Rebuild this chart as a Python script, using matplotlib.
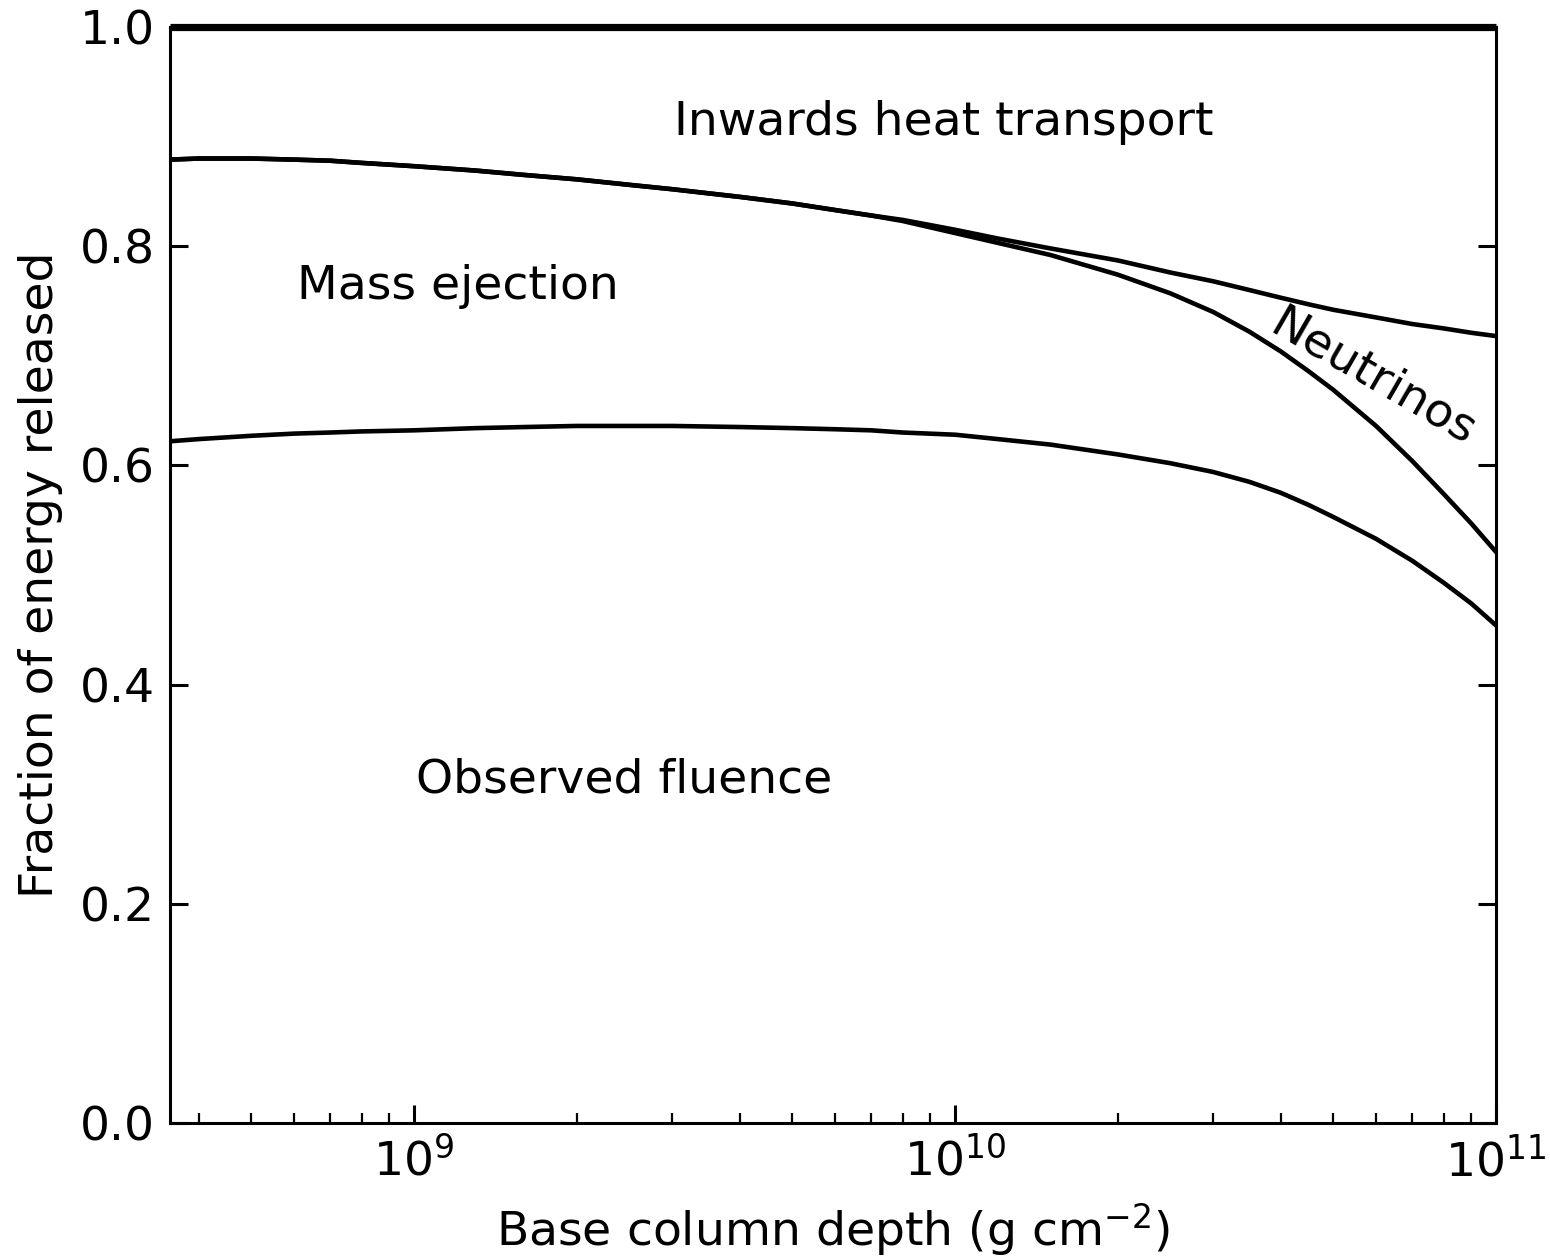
import numpy as np
import matplotlib
matplotlib.use('Agg')
import matplotlib.pyplot as plt

# base column depth (g cm^-2)
depth = [3.54e8, 4e8, 5e8, 6e8, 7e8, 8e8, 1e9, 1.3e9, 1.6e9, 2e9, 2.5e9, 3e9,
         4e9, 5e9, 6e9, 7e9, 8e9, 1e10, 1.2e10, 1.5e10, 2e10, 2.5e10, 3e10,
         3.5e10, 4e10, 4.5e10, 5e10, 6e10, 7e10, 8e10, 9e10, 1e11]

# upper edge of mass ejection (below heat transport)
heat_edge = [0.879, 0.880, 0.880, 0.879, 0.878, 0.876, 0.873, 0.869, 0.865, 0.861, 0.856, 0.852,
             0.845, 0.839, 0.833, 0.828, 0.824, 0.815, 0.807, 0.798, 0.787, 0.776, 0.768,
             0.760, 0.753, 0.747, 0.742, 0.735, 0.729, 0.725, 0.721, 0.718]
# lower edge of neutrinos band
nu_edge = [0.879, 0.880, 0.880, 0.879, 0.878, 0.876, 0.873, 0.869, 0.865, 0.861, 0.856, 0.852,
           0.845, 0.839, 0.833, 0.828, 0.823, 0.812, 0.803, 0.792, 0.774, 0.757, 0.740,
           0.722, 0.704, 0.686, 0.669, 0.636, 0.604, 0.574, 0.547, 0.521]
# observed fluence
fluence = [0.622, 0.624, 0.627, 0.629, 0.630, 0.631, 0.632, 0.634, 0.635, 0.636, 0.636, 0.636,
           0.635, 0.634, 0.633, 0.632, 0.630, 0.628, 0.624, 0.619, 0.610, 0.602, 0.594,
           0.585, 0.575, 0.564, 0.553, 0.533, 0.513, 0.493, 0.474, 0.454]
top = [1.0] * len(depth)

fs = 34
plt.rcParams['font.size'] = fs

fig = plt.figure(figsize=(15.5, 12.56), dpi=100)
ax = fig.add_axes([0.1097, 0.1059, 0.8555, 0.8726])

lw = 3.3
ax.plot(depth, top, 'k-', lw=5.2, clip_on=False, solid_capstyle='butt', zorder=3)
ax.plot(depth, heat_edge, 'k-', lw=lw)
ax.plot(depth, nu_edge, 'k-', lw=lw)
ax.plot(depth, fluence, 'k-', lw=lw)

ax.set_xscale('log')
ax.set_xlim(3.54e8, 1e11)
ax.set_ylim(0, 1)
ax.set_yticks([0, 0.2, 0.4, 0.6, 0.8, 1.0])

for s in ax.spines.values():
    s.set_linewidth(2.2)
ax.tick_params(which='both', direction='in', top=False, right=True, labelsize=fs)
ax.tick_params(which='major', length=13, width=2.2, pad=11)
ax.tick_params(which='minor', length=7, width=1.6)

ax.set_xlabel('Base column depth (g cm$^{-2}$)', fontsize=fs, labelpad=11)
ax.set_ylabel('Fraction of energy released', fontsize=fs, labelpad=12)

ax.text(3.03e9, 0.913, 'Inwards heat transport', fontsize=fs, ha='left', va='center')
ax.text(6.08e8, 0.763, 'Mass ejection', fontsize=fs, ha='left', va='center')
ax.text(1.01e9, 0.313, 'Observed fluence', fontsize=fs, ha='left', va='center')
ax.text(5.93e10, 0.680, 'Neutrinos', fontsize=fs, ha='center', va='center', rotation=-30)

fig.savefig('out.png', dpi=100)
